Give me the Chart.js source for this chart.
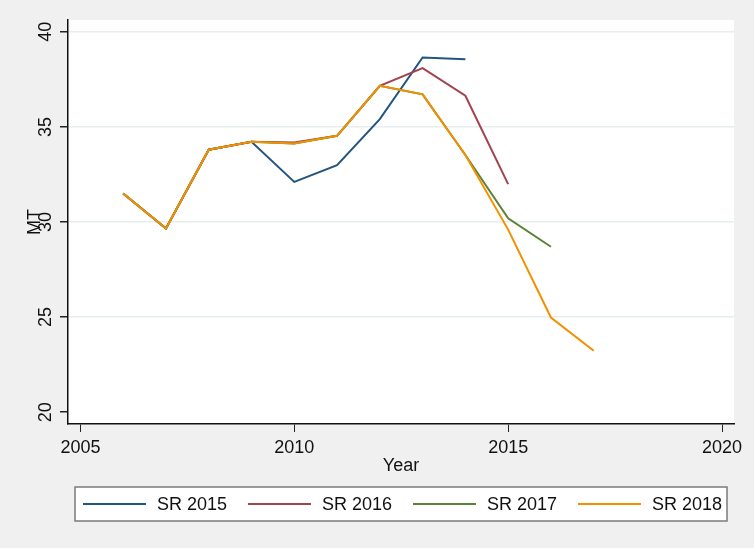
<!DOCTYPE html>
<html>
<head>
    <title>SR estimates</title>
    <script src="https://cdn.jsdelivr.net/npm/chart.js"></script>
    <style>
        body { margin: 0; background: #f0f0f0; }
        #wrap { width: 754px; height: 548px; }
    </style>
</head>
<body>
    <div id="wrap">
        <canvas id="srChart" width="754" height="548"></canvas>
    </div>

    <script>
        // values
        const years = [2006, 2007, 2008, 2009, 2010, 2011, 2012, 2013, 2014, 2015, 2016, 2017];
        const sr2015 = [31.5, 29.66, 33.8, 34.22, 32.11, 32.99, 35.41, 38.65, 38.55];
        const sr2016 = [31.5, 29.66, 33.8, 34.22, 34.18, 34.53, 37.16, 38.09, 36.64, 31.99];
        const sr2017 = [31.5, 29.66, 33.8, 34.22, 34.13, 34.53, 37.16, 36.71, 33.52, 30.19, 28.7];
        const sr2018 = [31.5, 29.66, 33.8, 34.22, 34.13, 34.53, 37.16, 36.71, 33.52, 29.6, 24.98, 23.23];
        const seriesNames = ['SR 2015', 'SR 2016', 'SR 2017', 'SR 2018'];
        const xTicks = [2005, 2010, 2015, 2020];
        const yTicks = [20, 25, 30, 35, 40];

        const colors = ['#24557f', '#a2444d', '#5b8236', '#f29000'];
        const font = { family: '"Liberation Sans", Arial, sans-serif', size: 18 };

        const toPoints = vals => vals.map((v, i) => ({ x: years[i], y: v }));
        const allSeries = [sr2015, sr2016, sr2017, sr2018];

        const datasets = allSeries.map((vals, i) => ({
            label: seriesNames[i],
            data: toPoints(vals),
            borderColor: colors[i],
            backgroundColor: colors[i],
            borderWidth: 2,
            pointRadius: 0,
            tension: 0,
            order: 3 - i   // SR 2018 drawn on top
        }));

        // grey page, white plot region, boxed legend underneath
        const stataLook = {
            id: 'stataLook',
            beforeDraw(chart) {
                const { ctx, chartArea: a } = chart;
                ctx.save();
                ctx.fillStyle = '#f0f0f0';
                ctx.fillRect(0, 0, chart.width, chart.height);
                ctx.fillStyle = '#ffffff';
                ctx.fillRect(a.left, a.top, a.right - a.left, a.bottom - a.top);
                ctx.restore();
            },
            afterDraw(chart) {
                const { ctx } = chart;
                const box = { x: 75, y: 487, w: 652, h: 34 };
                ctx.save();
                ctx.fillStyle = '#ffffff';
                ctx.fillRect(box.x, box.y, box.w, box.h);
                ctx.strokeStyle = '#7a7a7a';
                ctx.lineWidth = 1.5;
                ctx.strokeRect(box.x, box.y, box.w, box.h);
                const midY = box.y + box.h / 2;
                ctx.font = font.size + 'px ' + font.family;
                ctx.textBaseline = 'middle';
                ctx.textAlign = 'left';
                chart.data.datasets.forEach((ds, i) => {
                    const x0 = 83 + i * 165;
                    ctx.strokeStyle = ds.borderColor;
                    ctx.lineWidth = 2;
                    ctx.beginPath();
                    ctx.moveTo(x0, midY);
                    ctx.lineTo(x0 + 63, midY);
                    ctx.stroke();
                    ctx.fillStyle = '#111';
                    ctx.fillText(ds.label, x0 + 74, midY + 1);
                });
                ctx.restore();
            }
        };

        const ctx = document.getElementById('srChart').getContext('2d');
        new Chart(ctx, {
            type: 'line',
            data: { datasets: datasets },
            plugins: [stataLook],
            options: {
                responsive: false,
                animation: false,
                layout: { padding: { left: 0, top: 20, right: 20, bottom: 71 } },
                plugins: {
                    legend: { display: false },
                    tooltip: { enabled: false }
                },
                scales: {
                    x: {
                        type: 'linear',
                        min: 2004.71,
                        max: 2020.28,
                        afterBuildTicks: s => { s.ticks = xTicks.map(v => ({ value: v })); },
                        afterFit: s => { s.height = 53; },
                        grid: { drawOnChartArea: false, tickLength: 8, tickColor: '#222' },
                        border: { display: true, color: '#111', width: 1.5 },
                        ticks: {
                            autoSkip: false,
                            maxRotation: 0,
                            padding: 5,
                            color: '#111',
                            font: font,
                            callback: v => String(v)
                        },
                        title: {
                            display: true,
                            text: 'Year',
                            color: '#111',
                            font: font,
                            padding: { top: 0, bottom: 0 }
                        }
                    },
                    y: {
                        min: 19.38,
                        max: 40.62,
                        afterBuildTicks: s => { s.ticks = yTicks.map(v => ({ value: v })); },
                        afterFit: s => { s.width = 68; },
                        grid: {
                            color: c => (c.tick && c.tick.value === yTicks[0]) ? 'rgba(0,0,0,0)' : '#e6eef0',
                            lineWidth: 1.5,
                            tickLength: 8,
                            tickColor: '#222'
                        },
                        border: { display: true, color: '#111', width: 1.5 },
                        ticks: {
                            autoSkip: false,
                            minRotation: 90,
                            maxRotation: 90,
                            crossAlign: 'center',
                            padding: 4,
                            color: '#111',
                            font: font
                        },
                        title: {
                            display: true,
                            text: 'MT',
                            color: '#111',
                            font: font,
                            padding: { top: 24, bottom: 0 }
                        }
                    }
                }
            }
        });
    </script>
</body>
</html>
